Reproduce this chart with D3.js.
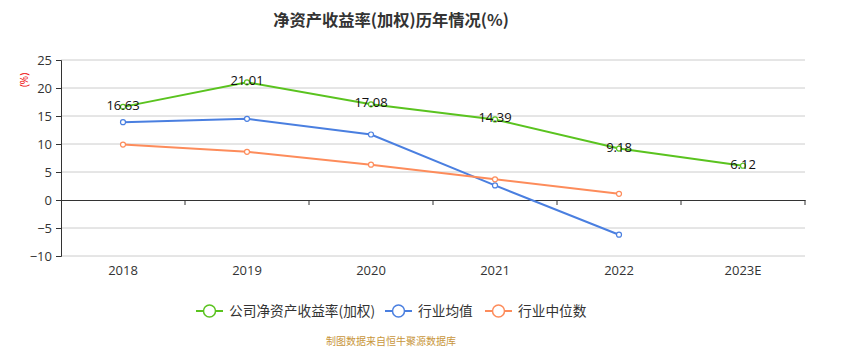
<!DOCTYPE html>
<html><head><meta charset="utf-8">
<script src="https://cdn.jsdelivr.net/npm/d3@7/dist/d3.min.js"></script>
<style>body{margin:0;background:#fff;}svg{display:block;font-family:"Open Sans","Noto Sans CJK SC",sans-serif;}</style>
</head><body>
<svg id="c" width="844" height="364"></svg>
<script>
const categories = ["2018","2019","2020","2021","2022","2023E"];
const companyROE = [16.63, 21.01, 17.08, 14.39, 9.18, 6.12];
const industryAvg = [13.9, 14.5, 11.7, 2.6, -6.2];
const industryMedian = [9.9, 8.6, 6.3, 3.7, 1.1];
const yTicks = [25, 20, 15, 10, 5, 0, -5, -10];
const seriesNames = ["公司净资产收益率(加权)", "行业均值", "行业中位数"];
const colors = ["#5ac31f", "#4a7fe0", "#fd8c5b"];

const svg = d3.select("#c");
const cjk = '"Noto Sans CJK SC","Open Sans",sans-serif';
const L = 61, R = 805, T = 60, B = 256;
const x = d3.scaleBand().domain(categories).range([L, R]);
const y = d3.scaleLinear().domain([-10, 25]).range([B, T]);

// title
svg.append("text").attr("x", 391).attr("y", 26).attr("text-anchor", "middle")
  .style("font-family", cjk).style("font-weight", "bold").style("font-size", "16.3px").attr("fill", "#333")
  .text("净资产收益率(加权)历年情况(%)");

// grid
svg.append("g").selectAll("line").data(yTicks.filter(d => d !== 0)).join("line")
  .attr("x1", L).attr("x2", R).attr("y1", d => y(d)).attr("y2", d => y(d))
  .attr("stroke", "#cccccc").attr("stroke-width", 1);

// y axis
const ya = svg.append("g").attr("transform", `translate(${L},0)`)
  .call(d3.axisLeft(y).tickValues(yTicks).tickSize(5).tickPadding(4));
ya.select(".domain").attr("stroke", "#333");
ya.selectAll(".tick line").attr("stroke", "#333");
ya.selectAll(".tick text").attr("fill", "#333").style("font-size", "13px").style("font-family", '"Open Sans",sans-serif');

// x axis at zero
const xa = svg.append("g").attr("transform", `translate(0,${y(0)})`)
  .call(d3.axisBottom(x).tickSize(0).tickFormat(""));
xa.select(".domain").attr("stroke", "#333");
svg.append("g").selectAll("line").data(categories).join("line")
  .attr("x1", d => x(d) + x.bandwidth()).attr("x2", d => x(d) + x.bandwidth())
  .attr("y1", y(0)).attr("y2", y(0) + 5).attr("stroke", "#333");
// x labels at bottom
svg.append("g").selectAll("text").data(categories).join("text")
  .attr("x", d => x(d) + x.bandwidth() / 2).attr("y", 275).attr("text-anchor", "middle")
  .attr("fill", "#333").style("font-size", "13px").text(d => d);

// y unit label
svg.append("text").attr("transform", "translate(28,80) rotate(-90)").attr("text-anchor", "middle")
  .attr("fill", "#e00").style("font-size", "10px").text("(%)");

const series = [companyROE, industryAvg, industryMedian];
const line = d3.line().x((d, i) => x(categories[i]) + x.bandwidth() / 2).y(d => y(d));
series.forEach((s, k) => {
  svg.append("path").datum(s).attr("d", line).attr("fill", "none")
    .attr("stroke", colors[k]).attr("stroke-width", 2);
  svg.append("g").selectAll("circle").data(s).join("circle")
    .attr("cx", (d, i) => x(categories[i]) + x.bandwidth() / 2).attr("cy", d => y(d))
    .attr("r", 2.5).attr("fill", "#fff").attr("stroke", colors[k]).attr("stroke-width", 1.2);
});
// labels for company
svg.append("g").selectAll("text").data(companyROE).join("text")
  .attr("x", (d, i) => x(categories[i]) + x.bandwidth() / 2).attr("y", d => y(d) + 3)
  .attr("text-anchor", "middle").attr("fill", "#111").style("font-size", "13px")
  .text(d => d.toFixed(2));

// legend
const legX = [196, 385, 485];
seriesNames.forEach((n, k) => {
  const g = svg.append("g").attr("transform", `translate(${legX[k]},311)`);
  g.append("line").attr("x1", 0).attr("x2", 27).attr("stroke", colors[k]).attr("stroke-width", 2);
  g.append("circle").attr("cx", 13.5).attr("r", 6).attr("fill", "#fff").attr("stroke", colors[k]).attr("stroke-width", 1.5);
  g.append("text").attr("x", 33).attr("y", 5).attr("fill", "#333").style("font-family", cjk)
    .style("font-size", "13.7px").text(n);
});

svg.append("text").attr("x", 391).attr("y", 345).attr("text-anchor", "middle")
  .style("font-family", cjk).style("font-size", "10px").attr("fill", "#c8963c")
  .text("制图数据来自恒牛聚源数据库");
</script>
</body></html>
